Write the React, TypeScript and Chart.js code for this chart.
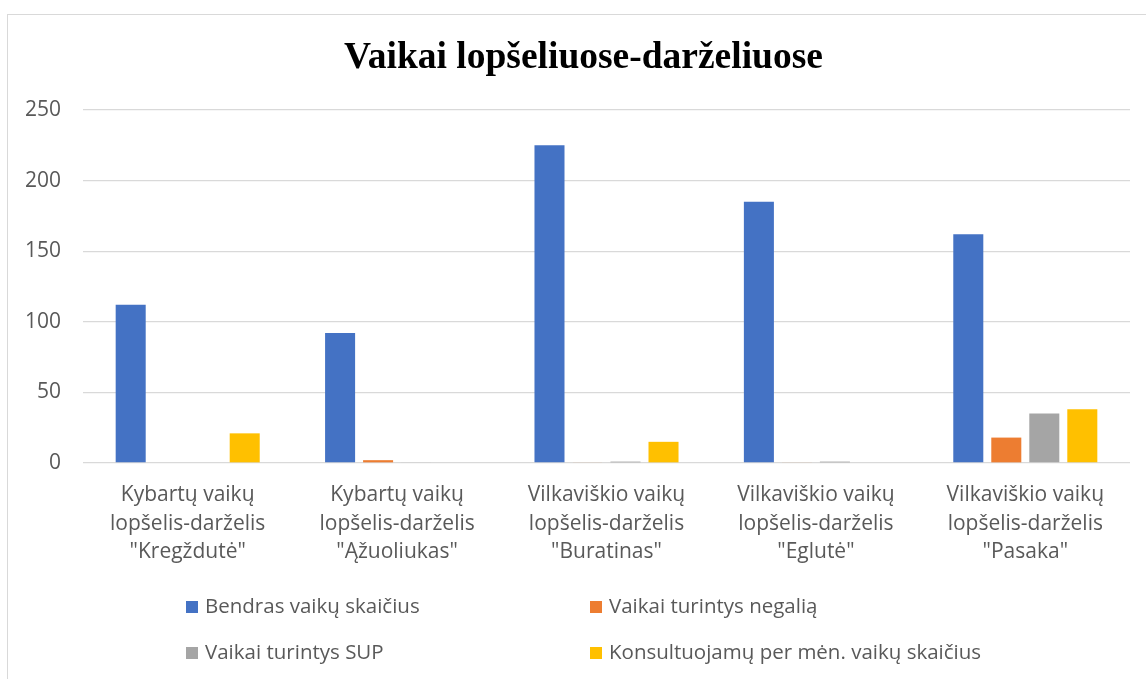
import React, { useEffect, useRef } from "react";
import { Chart, registerables } from "chart.js";

Chart.register(...registerables);

const titleText = "Vaikai lopšeliuose-darželiuose";

const categories: string[][] = [
  ["Kybartų vaikų", "lopšelis-darželis", "\"Kregždutė\""],
  ["Kybartų vaikų", "lopšelis-darželis", "\"Ąžuoliukas\""],
  ["Vilkaviškio vaikų", "lopšelis-darželis", "\"Buratinas\""],
  ["Vilkaviškio vaikų", "lopšelis-darželis", "\"Eglutė\""],
  ["Vilkaviškio vaikų", "lopšelis-darželis", "\"Pasaka\""],
];

const seriesNames = [
  "Bendras vaikų skaičius",
  "Vaikai turintys negalią",
  "Vaikai turintys SUP",
  "Konsultuojamų per mėn. vaikų skaičius",
];

const bendras = [112, 92, 225, 185, 162];
const negalia = [0, 2, 0.5, 0.5, 18];
const sup = [0, 0.5, 1, 1, 35];
const konsultuojamu = [21, 0, 15, 0, 38];

const colors = ["#4472C4", "#ED7D31", "#A5A5A5", "#FFC000"];

const yTicks = [0, 50, 100, 150, 200, 250];

const TICK_FONT = { family: "'Open Sans'", size: 21 };
const TEXT_COLOR = "#595959";

const titleAndLegend = {
  id: "titleAndLegend",
  afterDraw(chart: any) {
    const ctx = chart.ctx;
    ctx.save();
    // title
    ctx.font = "bold 37.5px 'Liberation Serif'";
    ctx.fillStyle = "#000000";
    ctx.textAlign = "center";
    ctx.textBaseline = "middle";
    ctx.fillText(titleText, 575.5, 43);
    // legend in a 2x2 grid
    const colX = [178, 582];
    const rowY = [592, 638];
    ctx.font = "20.5px 'Open Sans'";
    ctx.textAlign = "left";
    chart.data.datasets.forEach((ds: any, i: number) => {
      const x = colX[i % 2];
      const y = rowY[Math.floor(i / 2)];
      ctx.fillStyle = ds.backgroundColor;
      ctx.fillRect(x, y - 6, 12, 12);
      ctx.fillStyle = TEXT_COLOR;
      ctx.fillText(ds.label, x + 19, y);
    });
    ctx.restore();
  },
};

export default function App() {
  const ref = useRef<HTMLCanvasElement | null>(null);

  useEffect(() => {
    if (!ref.current) return;
    const values = [bendras, negalia, sup, konsultuojamu];
    const chart = new Chart(ref.current, {
      type: "bar",
      data: {
        labels: categories,
        datasets: seriesNames.map((name, i) => ({
          label: name,
          data: values[i],
          backgroundColor: colors[i],
          borderWidth: 0,
          categoryPercentage: 0.726,
          barPercentage: 0.79,
        })),
      },
      options: {
        responsive: false,
        animation: false,
        devicePixelRatio: 1,
        layout: { padding: { left: 0, right: 16, top: 95, bottom: 0 } },
        plugins: {
          legend: { display: false },
          tooltip: { enabled: false },
          title: { display: false },
        },
        scales: {
          x: {
            grid: { display: false, drawTicks: false },
            border: { display: false },
            ticks: {
              color: TEXT_COLOR,
              font: { ...TICK_FONT, lineHeight: 1.36 },
              padding: 18,
              maxRotation: 0,
              autoSkip: false,
            },
            afterFit: (s: any) => {
              s.height = 216;
            },
          },
          y: {
            min: 0,
            max: 250,
            afterBuildTicks: (s: any) => {
              s.ticks = yTicks.map((v) => ({ value: v }));
            },
            grid: { color: "#d9d9d9", lineWidth: 1.3, drawTicks: false },
            border: { display: false },
            ticks: {
              color: TEXT_COLOR,
              font: TICK_FONT,
              padding: 22,
            },
            afterFit: (s: any) => {
              s.width = 75;
            },
          },
        },
      },
      plugins: [titleAndLegend],
    });
    return () => chart.destroy();
  }, []);

  return (
    <div style={{ position: "fixed", inset: 0, overflow: "hidden", background: "#ffffff" }}>
      <div
        style={{
          position: "absolute",
          left: 7,
          top: 14,
          width: 1160,
          height: 700,
          border: "1px solid #d9d9d9",
          boxSizing: "border-box",
        }}
      >
        <canvas ref={ref} width={1138} height={664} style={{ display: "block", width: 1138, height: 664 }} />
      </div>
    </div>
  );
}
